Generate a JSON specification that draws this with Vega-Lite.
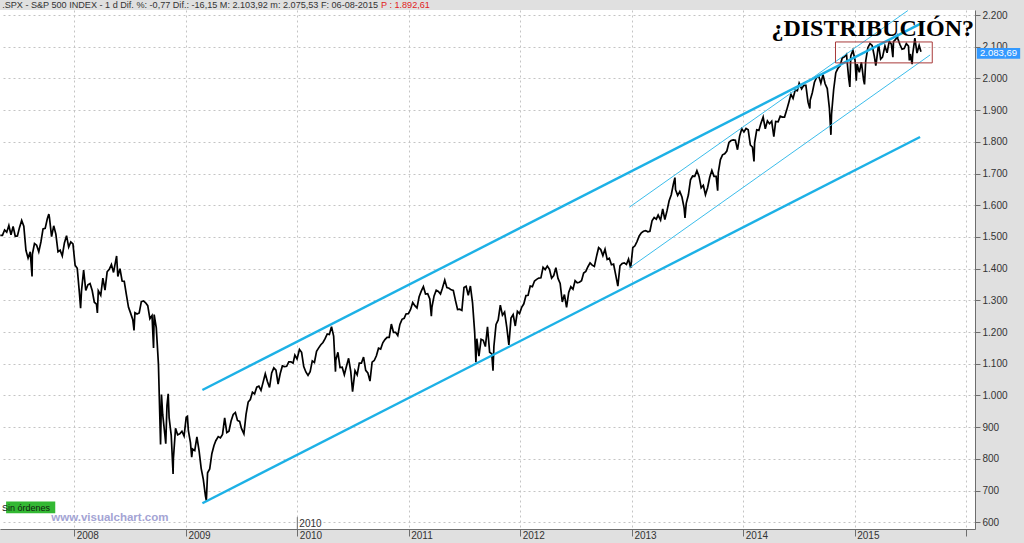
{
"$schema": "https://vega.github.io/schema/vega-lite/v6.json",
"width": 975, "height": 519,
"autosize": {"type": "none"},
"padding": {"top": 10, "left": 0, "right": 49, "bottom": 14},
"background": "#E0E0E0",
"config": {
"view": {"fill": "white", "stroke": null},
"locale": {"number": {"decimal": ",", "thousands": ".", "grouping": [3], "currency": ["", ""]}},
"axis": {"title": null, "grid": true, "gridColor": "#C4C4C4", "gridDash": [2, 3], "gridWidth": 1, "domainColor": "#6E6E6E", "tickColor": "#6E6E6E", "labelFont": "Liberation Sans", "labelFontSize": 10, "labelColor": "#333333", "labelFlush": false, "labelOverlap": false},
"axisX": {"tickSize": 7, "labelAlign": "left", "labelBaseline": "top", "labelOffset": 2, "labelPadding": -6},
"axisY": {"tickSize": 5, "labelPadding": 2, "labelOverlap": false, "format": ",.0f", "values": [600,700,800,900,1000,1100,1200,1300,1400,1500,1600,1700,1800,1900,2000,2100,2200]}
},
"datasets": {
"px": [
{"d":"2007-05-04","v":1505},{"d":"2007-05-11","v":1505},{"d":"2007-05-18","v":1522},{"d":"2007-05-25","v":1515},{"d":"2007-06-01","v":1536},{"d":"2007-06-08","v":1507},{"d":"2007-06-15","v":1533},{"d":"2007-06-22","v":1502},{"d":"2007-06-29","v":1503},{"d":"2007-07-06","v":1530},{"d":"2007-07-13","v":1552},{"d":"2007-07-20","v":1534},{"d":"2007-07-27","v":1458},{"d":"2007-08-03","v":1433},{"d":"2007-08-10","v":1453},{"d":"2007-08-16","v":1375},{"d":"2007-08-17","v":1445},{"d":"2007-08-24","v":1479},{"d":"2007-08-31","v":1474},{"d":"2007-09-07","v":1453},{"d":"2007-09-14","v":1484},{"d":"2007-09-21","v":1525},{"d":"2007-09-28","v":1527},{"d":"2007-10-05","v":1557},{"d":"2007-10-10","v":1572},{"d":"2007-10-12","v":1561},{"d":"2007-10-19","v":1501},{"d":"2007-10-26","v":1535},{"d":"2007-11-02","v":1509},{"d":"2007-11-09","v":1453},{"d":"2007-11-16","v":1458},{"d":"2007-11-23","v":1440},{"d":"2007-11-30","v":1481},{"d":"2007-12-07","v":1504},{"d":"2007-12-14","v":1468},{"d":"2007-12-21","v":1484},{"d":"2007-12-28","v":1478},
{"d":"2008-01-04","v":1411},{"d":"2008-01-11","v":1401},{"d":"2008-01-18","v":1325},{"d":"2008-01-22","v":1275},{"d":"2008-01-25","v":1330},{"d":"2008-02-01","v":1395},{"d":"2008-02-08","v":1331},{"d":"2008-02-15","v":1349},{"d":"2008-02-22","v":1353},{"d":"2008-02-29","v":1331},{"d":"2008-03-07","v":1294},{"d":"2008-03-14","v":1288},{"d":"2008-03-17","v":1260},{"d":"2008-03-20","v":1330},{"d":"2008-03-28","v":1316},{"d":"2008-04-04","v":1370},{"d":"2008-04-11","v":1332},{"d":"2008-04-18","v":1390},{"d":"2008-04-25","v":1398},{"d":"2008-05-02","v":1413},{"d":"2008-05-09","v":1388},{"d":"2008-05-19","v":1440},{"d":"2008-05-23","v":1375},{"d":"2008-05-30","v":1400},{"d":"2008-06-06","v":1361},{"d":"2008-06-13","v":1360},{"d":"2008-06-20","v":1318},{"d":"2008-06-27","v":1278},{"d":"2008-07-03","v":1262},{"d":"2008-07-11","v":1239},{"d":"2008-07-15","v":1205},{"d":"2008-07-18","v":1261},{"d":"2008-07-25","v":1257},{"d":"2008-08-01","v":1260},{"d":"2008-08-08","v":1296},{"d":"2008-08-15","v":1298},{"d":"2008-08-22","v":1292},{"d":"2008-08-29","v":1283},{"d":"2008-09-05","v":1242},{"d":"2008-09-12","v":1252},{"d":"2008-09-17","v":1150},{"d":"2008-09-19","v":1255},{"d":"2008-09-26","v":1213},{"d":"2008-10-03","v":1099},{"d":"2008-10-10","v":845},{"d":"2008-10-13","v":1003},{"d":"2008-10-17","v":940},{"d":"2008-10-24","v":877},{"d":"2008-10-27","v":848},{"d":"2008-10-31","v":968},{"d":"2008-11-04","v":1005},{"d":"2008-11-07","v":930},{"d":"2008-11-14","v":873},{"d":"2008-11-20","v":752},{"d":"2008-11-21","v":800},{"d":"2008-11-28","v":896},{"d":"2008-12-05","v":876},{"d":"2008-12-12","v":879},{"d":"2008-12-19","v":887},{"d":"2008-12-26","v":872},
{"d":"2009-01-02","v":931},{"d":"2009-01-06","v":934},{"d":"2009-01-09","v":890},{"d":"2009-01-16","v":850},{"d":"2009-01-20","v":805},{"d":"2009-01-23","v":831},{"d":"2009-01-30","v":826},{"d":"2009-02-06","v":869},{"d":"2009-02-13","v":827},{"d":"2009-02-20","v":770},{"d":"2009-02-27","v":735},{"d":"2009-03-06","v":683},{"d":"2009-03-09","v":668},{"d":"2009-03-13","v":756},{"d":"2009-03-20","v":768},{"d":"2009-03-27","v":816},{"d":"2009-04-03","v":842},{"d":"2009-04-09","v":857},{"d":"2009-04-17","v":870},{"d":"2009-04-24","v":866},{"d":"2009-05-01","v":877},{"d":"2009-05-08","v":929},{"d":"2009-05-15","v":883},{"d":"2009-05-22","v":887},{"d":"2009-05-29","v":919},{"d":"2009-06-05","v":940},{"d":"2009-06-12","v":946},{"d":"2009-06-19","v":921},{"d":"2009-06-26","v":918},{"d":"2009-07-02","v":896},{"d":"2009-07-10","v":879},{"d":"2009-07-17","v":940},{"d":"2009-07-24","v":979},{"d":"2009-07-31","v":987},{"d":"2009-08-07","v":1010},{"d":"2009-08-14","v":1005},{"d":"2009-08-21","v":1026},{"d":"2009-08-28","v":1029},{"d":"2009-09-04","v":1016},{"d":"2009-09-11","v":1042},{"d":"2009-09-18","v":1068},{"d":"2009-09-25","v":1044},{"d":"2009-10-02","v":1025},{"d":"2009-10-09","v":1071},{"d":"2009-10-16","v":1087},{"d":"2009-10-23","v":1080},{"d":"2009-10-30","v":1036},{"d":"2009-11-06","v":1069},{"d":"2009-11-13","v":1093},{"d":"2009-11-20","v":1091},{"d":"2009-11-27","v":1092},{"d":"2009-12-04","v":1106},{"d":"2009-12-11","v":1106},{"d":"2009-12-18","v":1102},{"d":"2009-12-24","v":1127},{"d":"2009-12-31","v":1115},
{"d":"2010-01-08","v":1145},{"d":"2010-01-15","v":1136},{"d":"2010-01-22","v":1091},{"d":"2010-01-29","v":1074},{"d":"2010-02-05","v":1063},{"d":"2010-02-12","v":1075},{"d":"2010-02-19","v":1109},{"d":"2010-02-26","v":1104},{"d":"2010-03-05","v":1139},{"d":"2010-03-12","v":1150},{"d":"2010-03-19","v":1160},{"d":"2010-03-26","v":1167},{"d":"2010-04-02","v":1179},{"d":"2010-04-09","v":1194},{"d":"2010-04-16","v":1192},{"d":"2010-04-23","v":1217},{"d":"2010-04-30","v":1187},{"d":"2010-05-06","v":1075},{"d":"2010-05-07","v":1111},{"d":"2010-05-14","v":1136},{"d":"2010-05-21","v":1088},{"d":"2010-05-28","v":1089},{"d":"2010-06-04","v":1065},{"d":"2010-06-11","v":1092},{"d":"2010-06-18","v":1117},{"d":"2010-06-25","v":1076},{"d":"2010-07-01","v":1012},{"d":"2010-07-09","v":1078},{"d":"2010-07-16","v":1065},{"d":"2010-07-23","v":1102},{"d":"2010-07-30","v":1102},{"d":"2010-08-06","v":1121},{"d":"2010-08-13","v":1079},{"d":"2010-08-20","v":1071},{"d":"2010-08-27","v":1045},{"d":"2010-09-03","v":1105},{"d":"2010-09-10","v":1110},{"d":"2010-09-17","v":1125},{"d":"2010-09-24","v":1149},{"d":"2010-10-01","v":1146},{"d":"2010-10-08","v":1166},{"d":"2010-10-15","v":1176},{"d":"2010-10-22","v":1183},{"d":"2010-10-29","v":1183},{"d":"2010-11-05","v":1225},{"d":"2010-11-12","v":1199},{"d":"2010-11-19","v":1199},{"d":"2010-11-26","v":1189},{"d":"2010-12-03","v":1224},{"d":"2010-12-10","v":1240},{"d":"2010-12-17","v":1243},{"d":"2010-12-23","v":1257},{"d":"2010-12-31","v":1258},
{"d":"2011-01-07","v":1271},{"d":"2011-01-14","v":1293},{"d":"2011-01-21","v":1283},{"d":"2011-01-28","v":1276},{"d":"2011-02-04","v":1311},{"d":"2011-02-11","v":1329},{"d":"2011-02-18","v":1343},{"d":"2011-02-25","v":1320},{"d":"2011-03-04","v":1321},{"d":"2011-03-11","v":1304},{"d":"2011-03-16","v":1250},{"d":"2011-03-18","v":1279},{"d":"2011-03-25","v":1314},{"d":"2011-04-01","v":1332},{"d":"2011-04-08","v":1328},{"d":"2011-04-15","v":1320},{"d":"2011-04-21","v":1337},{"d":"2011-04-29","v":1364},{"d":"2011-05-06","v":1340},{"d":"2011-05-13","v":1338},{"d":"2011-05-20","v":1333},{"d":"2011-05-27","v":1331},{"d":"2011-06-03","v":1300},{"d":"2011-06-10","v":1271},{"d":"2011-06-17","v":1272},{"d":"2011-06-24","v":1268},{"d":"2011-07-01","v":1340},{"d":"2011-07-08","v":1344},{"d":"2011-07-15","v":1316},{"d":"2011-07-22","v":1345},{"d":"2011-07-29","v":1292},{"d":"2011-08-05","v":1199},{"d":"2011-08-09","v":1105},{"d":"2011-08-12","v":1179},{"d":"2011-08-19","v":1124},{"d":"2011-08-26","v":1177},{"d":"2011-09-02","v":1174},{"d":"2011-09-09","v":1154},{"d":"2011-09-16","v":1216},{"d":"2011-09-23","v":1136},{"d":"2011-09-30","v":1131},{"d":"2011-10-04","v":1078},{"d":"2011-10-07","v":1155},{"d":"2011-10-14","v":1224},{"d":"2011-10-21","v":1238},{"d":"2011-10-28","v":1285},{"d":"2011-11-04","v":1253},{"d":"2011-11-11","v":1263},{"d":"2011-11-18","v":1216},{"d":"2011-11-25","v":1159},{"d":"2011-12-02","v":1244},{"d":"2011-12-09","v":1255},{"d":"2011-12-16","v":1219},{"d":"2011-12-23","v":1265},{"d":"2011-12-30","v":1258},
{"d":"2012-01-06","v":1278},{"d":"2012-01-13","v":1289},{"d":"2012-01-20","v":1315},{"d":"2012-01-27","v":1316},{"d":"2012-02-03","v":1345},{"d":"2012-02-10","v":1343},{"d":"2012-02-17","v":1361},{"d":"2012-02-24","v":1366},{"d":"2012-03-02","v":1370},{"d":"2012-03-09","v":1371},{"d":"2012-03-16","v":1404},{"d":"2012-03-23","v":1397},{"d":"2012-03-30","v":1408},{"d":"2012-04-06","v":1398},{"d":"2012-04-13","v":1370},{"d":"2012-04-20","v":1378},{"d":"2012-04-27","v":1403},{"d":"2012-05-04","v":1369},{"d":"2012-05-11","v":1353},{"d":"2012-05-18","v":1295},{"d":"2012-05-25","v":1318},{"d":"2012-06-01","v":1278},{"d":"2012-06-08","v":1325},{"d":"2012-06-15","v":1343},{"d":"2012-06-22","v":1335},{"d":"2012-06-29","v":1362},{"d":"2012-07-06","v":1355},{"d":"2012-07-13","v":1357},{"d":"2012-07-20","v":1362},{"d":"2012-07-27","v":1386},{"d":"2012-08-03","v":1391},{"d":"2012-08-10","v":1406},{"d":"2012-08-17","v":1418},{"d":"2012-08-24","v":1411},{"d":"2012-08-31","v":1407},{"d":"2012-09-07","v":1438},{"d":"2012-09-14","v":1466},{"d":"2012-09-21","v":1460},{"d":"2012-09-28","v":1441},{"d":"2012-10-05","v":1461},{"d":"2012-10-12","v":1429},{"d":"2012-10-19","v":1433},{"d":"2012-10-26","v":1412},{"d":"2012-11-02","v":1414},{"d":"2012-11-09","v":1380},{"d":"2012-11-16","v":1345},{"d":"2012-11-23","v":1409},{"d":"2012-11-30","v":1416},{"d":"2012-12-07","v":1418},{"d":"2012-12-14","v":1413},{"d":"2012-12-21","v":1430},{"d":"2012-12-28","v":1402},
{"d":"2013-01-04","v":1466},{"d":"2013-01-11","v":1472},{"d":"2013-01-18","v":1486},{"d":"2013-01-25","v":1503},{"d":"2013-02-01","v":1513},{"d":"2013-02-08","v":1518},{"d":"2013-02-15","v":1520},{"d":"2013-02-22","v":1516},{"d":"2013-03-01","v":1518},{"d":"2013-03-08","v":1551},{"d":"2013-03-15","v":1561},{"d":"2013-03-22","v":1556},{"d":"2013-03-28","v":1569},{"d":"2013-04-05","v":1553},{"d":"2013-04-12","v":1588},{"d":"2013-04-19","v":1555},{"d":"2013-04-26","v":1582},{"d":"2013-05-03","v":1614},{"d":"2013-05-10","v":1633},{"d":"2013-05-17","v":1667},{"d":"2013-05-22","v":1687},{"d":"2013-05-24","v":1649},{"d":"2013-05-31","v":1631},{"d":"2013-06-07","v":1643},{"d":"2013-06-14","v":1626},{"d":"2013-06-21","v":1592},{"d":"2013-06-24","v":1560},{"d":"2013-06-28","v":1606},{"d":"2013-07-05","v":1632},{"d":"2013-07-12","v":1680},{"d":"2013-07-19","v":1692},{"d":"2013-07-26","v":1691},{"d":"2013-08-02","v":1709},{"d":"2013-08-09","v":1691},{"d":"2013-08-16","v":1655},{"d":"2013-08-23","v":1663},{"d":"2013-08-30","v":1633},{"d":"2013-09-06","v":1655},{"d":"2013-09-13","v":1688},{"d":"2013-09-20","v":1710},{"d":"2013-09-27","v":1691},{"d":"2013-10-04","v":1691},{"d":"2013-10-09","v":1646},{"d":"2013-10-11","v":1703},{"d":"2013-10-18","v":1744},{"d":"2013-10-25","v":1759},{"d":"2013-11-01","v":1762},{"d":"2013-11-08","v":1771},{"d":"2013-11-15","v":1798},{"d":"2013-11-22","v":1804},{"d":"2013-11-29","v":1806},{"d":"2013-12-06","v":1805},{"d":"2013-12-13","v":1775},{"d":"2013-12-20","v":1818},{"d":"2013-12-27","v":1841},
{"d":"2014-01-03","v":1831},{"d":"2014-01-10","v":1842},{"d":"2014-01-17","v":1838},{"d":"2014-01-24","v":1790},{"d":"2014-01-31","v":1783},{"d":"2014-02-05","v":1738},{"d":"2014-02-07","v":1797},{"d":"2014-02-14","v":1838},{"d":"2014-02-21","v":1836},{"d":"2014-02-28","v":1859},{"d":"2014-03-07","v":1878},{"d":"2014-03-14","v":1841},{"d":"2014-03-21","v":1866},{"d":"2014-03-28","v":1857},{"d":"2014-04-04","v":1865},{"d":"2014-04-11","v":1816},{"d":"2014-04-17","v":1864},{"d":"2014-04-25","v":1863},{"d":"2014-05-02","v":1881},{"d":"2014-05-09","v":1878},{"d":"2014-05-16","v":1878},{"d":"2014-05-23","v":1900},{"d":"2014-05-30","v":1924},{"d":"2014-06-06","v":1950},{"d":"2014-06-13","v":1937},{"d":"2014-06-20","v":1963},{"d":"2014-06-27","v":1961},{"d":"2014-07-03","v":1985},{"d":"2014-07-11","v":1967},{"d":"2014-07-18","v":1978},{"d":"2014-07-25","v":1978},{"d":"2014-08-01","v":1925},{"d":"2014-08-07","v":1905},{"d":"2014-08-08","v":1931},{"d":"2014-08-15","v":1955},{"d":"2014-08-22","v":1988},{"d":"2014-08-29","v":2003},{"d":"2014-09-05","v":2008},{"d":"2014-09-12","v":1985},{"d":"2014-09-19","v":2012},{"d":"2014-09-26","v":1983},{"d":"2014-10-03","v":1968},{"d":"2014-10-10","v":1906},{"d":"2014-10-15","v":1822},{"d":"2014-10-17","v":1887},{"d":"2014-10-24","v":1965},{"d":"2014-10-31","v":2018},{"d":"2014-11-07","v":2032},{"d":"2014-11-14","v":2040},{"d":"2014-11-21","v":2064},{"d":"2014-11-28","v":2068},{"d":"2014-12-05","v":2076},{"d":"2014-12-12","v":2003},{"d":"2014-12-16","v":1973},{"d":"2014-12-19","v":2071},{"d":"2014-12-26","v":2089},
{"d":"2015-01-02","v":2058},{"d":"2015-01-06","v":1993},{"d":"2015-01-09","v":2045},{"d":"2015-01-16","v":2019},{"d":"2015-01-23","v":2051},{"d":"2015-01-30","v":1995},{"d":"2015-02-02","v":1981},{"d":"2015-02-06","v":2055},{"d":"2015-02-13","v":2097},{"d":"2015-02-20","v":2110},{"d":"2015-02-27","v":2104},{"d":"2015-03-06","v":2071},{"d":"2015-03-11","v":2040},{"d":"2015-03-13","v":2053},{"d":"2015-03-20","v":2108},{"d":"2015-03-27","v":2061},{"d":"2015-04-02","v":2067},{"d":"2015-04-10","v":2102},{"d":"2015-04-17","v":2081},{"d":"2015-04-24","v":2117},{"d":"2015-05-01","v":2108},{"d":"2015-05-06","v":2067},{"d":"2015-05-08","v":2116},{"d":"2015-05-15","v":2123},{"d":"2015-05-21","v":2134},{"d":"2015-05-22","v":2126},{"d":"2015-05-29","v":2107},{"d":"2015-06-05","v":2092},{"d":"2015-06-12","v":2094},{"d":"2015-06-19","v":2110},{"d":"2015-06-26","v":2102},{"d":"2015-06-29","v":2057},{"d":"2015-07-02","v":2077},{"d":"2015-07-08","v":2045},{"d":"2015-07-10","v":2077},{"d":"2015-07-17","v":2127},{"d":"2015-07-24","v":2080},{"d":"2015-07-31","v":2104},{"d":"2015-08-06","v":2084}
],
"thick": [
{"id":"a","d":"2009-02-24","v":1017},{"id":"a","d":"2015-08-10","v":2175},
{"id":"b","d":"2009-02-24","v":660},{"id":"b","d":"2015-08-03","v":1815}
],
"thin": [
{"id":"c","d":"2012-12-24","v":1594},{"id":"c","d":"2015-06-24","v":2214},
{"id":"d","d":"2012-12-24","v":1402},{"id":"d","d":"2015-09-05","v":2074}
],
"one": [{}]
},
"layer": [
{
"data": {"name": "px"},
"mark": {"type": "line", "color": "#000000", "strokeWidth": 1.7},
"encoding": {
"x": {"field": "d", "type": "temporal",
"scale": {"domain": [{"year": 2007, "month": 5, "date": 3}, {"year": 2016, "month": 1, "date": 30}]},
"axis": {"title": null, "format": "%Y", "tickCount": {"interval": "year", "step": 1},
"labelExpr": "year(datum.value) > 2015 ? '' : datum.label"}},
"y": {"field": "v", "type": "quantitative",
"scale": {"domain": [578.6, 2215.8], "nice": false, "zero": false},
"axis": {"title": null, "orient": "right", "labelOverlap": false}}
}
},
{
"data": {"name": "thick"},
"mark": {"type": "line", "color": "#1DB1E6", "strokeWidth": 2.4},
"encoding": {"x": {"field": "d", "type": "temporal"}, "y": {"field": "v", "type": "quantitative"}, "detail": {"field": "id"}}
},
{
"data": {"name": "thin"},
"mark": {"type": "line", "color": "#3BBDEB", "strokeWidth": 1},
"encoding": {"x": {"field": "d", "type": "temporal"}, "y": {"field": "v", "type": "quantitative"}, "detail": {"field": "id"}}
},
{
"data": {"name": "one"},
"mark": {"type": "rect", "fillOpacity": 0, "fill": "white", "stroke": "#A83A3A", "strokeWidth": 1},
"encoding": {
"x": {"datum": {"year": 2014, "month": 10, "date": 30}, "type": "temporal"},
"x2": {"datum": {"year": 2015, "month": 9, "date": 12}},
"y": {"datum": 2115, "type": "quantitative"},
"y2": {"datum": 2049}
}
},
{
"data": {"name": "one"},
"mark": {"type": "text", "text": "¿DISTRIBUCIÓN?", "font": "Liberation Serif", "fontWeight": "bold", "fontSize": 24, "align": "center", "baseline": "alphabetic", "color": "#000000"},
"encoding": {"x": {"datum": {"year": 2015, "month": 3, "date": 1}, "type": "temporal"}, "y": {"datum": 2134, "type": "quantitative"}}
},
{
"data": {"name": "one"},
"mark": {"type": "text", "text": ".SPX - S&P 500 INDEX -  1 d Dif. %: -0,77 Dif.: -16,15 M: 2.103,92 m: 2.075,53 F: 06-08-2015", "font": "Liberation Sans", "fontSize": 9.1, "align": "left", "baseline": "alphabetic", "color": "#333333"},
"encoding": {"x": {"datum": {"year": 2007, "month": 5, "date": 10}, "type": "temporal"}, "y": {"datum": 2222, "type": "quantitative"}}
},
{
"data": {"name": "one"},
"mark": {"type": "text", "text": "P : 1.892,61", "font": "Liberation Sans", "fontSize": 9.1, "align": "left", "baseline": "alphabetic", "color": "#E02020"},
"encoding": {"x": {"datum": {"year": 2010, "month": 10, "date": 2}, "type": "temporal"}, "y": {"datum": 2222, "type": "quantitative"}}
},
{
"data": {"name": "one"},
"mark": {"type": "rect", "fill": "#33B833"},
"encoding": {
"x": {"datum": {"year": 2007, "month": 5, "date": 23}, "type": "temporal"},
"x2": {"datum": {"year": 2007, "month": 10, "date": 31}},
"y": {"datum": 665, "type": "quantitative"},
"y2": {"datum": 628}
}
},
{
"data": {"name": "one"},
"mark": {"type": "text", "text": "Sin órdenes", "font": "Liberation Sans", "fontSize": 9, "align": "center", "baseline": "middle", "color": "#102010"},
"encoding": {"x": {"datum": {"year": 2007, "month": 7, "date": 27}, "type": "temporal"}, "y": {"datum": 646, "type": "quantitative"}}
},
{
"data": {"name": "one"},
"mark": {"type": "text", "text": "www.visualchart.com", "font": "Liberation Sans", "fontWeight": "bold", "fontSize": 11.5, "align": "center", "baseline": "alphabetic", "color": "#A4A4D4"},
"encoding": {"x": {"datum": {"year": 2008, "month": 4, "date": 27}, "type": "temporal"}, "y": {"datum": 604, "type": "quantitative"}}
},
{
"data": {"name": "one"},
"mark": {"type": "rect", "fill": "#3399FF"},
"encoding": {
"x": {"datum": {"year": 2016, "month": 2, "date": 5}, "type": "temporal"},
"x2": {"datum": {"year": 2016, "month": 6, "date": 26}},
"y": {"datum": 2096, "type": "quantitative"},
"y2": {"datum": 2062}
}
},
{
"data": {"name": "one"},
"mark": {"type": "text", "text": "2.083,69", "font": "Liberation Sans", "fontSize": 9.5, "align": "center", "baseline": "middle", "color": "#FFFFFF"},
"encoding": {"x": {"datum": {"year": 2016, "month": 4, "date": 16}, "type": "temporal"}, "y": {"datum": 2079, "type": "quantitative"}}
},
{
"data": {"name": "one"},
"mark": {"type": "rule", "color": "#6E6E6E", "strokeWidth": 1},
"encoding": {
"x": {"datum": {"year": 2010, "month": 1, "date": 1}, "type": "temporal"},
"y": {"datum": 578.6, "type": "quantitative"},
"y2": {"datum": 616}
}
},
{
"data": {"name": "one"},
"mark": {"type": "text", "text": "2010", "font": "Liberation Sans", "fontSize": 10, "align": "left", "baseline": "alphabetic", "dx": 2, "color": "#333333"},
"encoding": {"x": {"datum": {"year": 2010, "month": 1, "date": 1}, "type": "temporal"}, "y": {"datum": 586, "type": "quantitative"}}
}
]
}
